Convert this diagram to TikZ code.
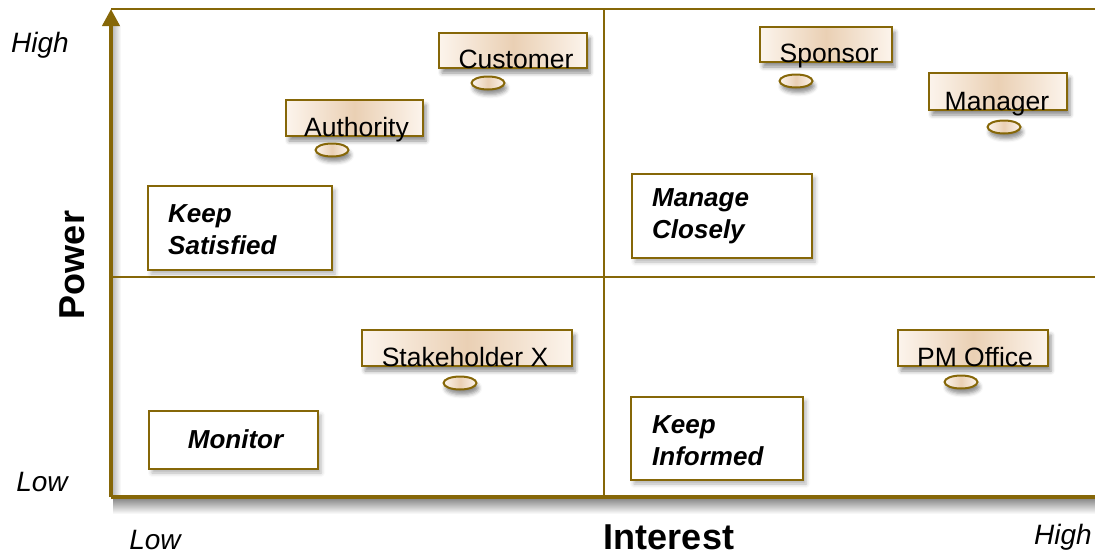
\documentclass[tikz,border=0pt]{standalone}
\usepackage{fontspec}
\setmainfont{Liberation Sans}
\usetikzlibrary{shadows.blur,arrows.meta,shapes.geometric}
\definecolor{axiscol}{RGB}{134,103,8}
\definecolor{tanlight}{RGB}{252,244,236}
\definecolor{tandark}{RGB}{234,208,180}
\begin{document}
\begin{tikzpicture}[x=1pt,y=-1pt,
  axisline/.style={draw=axiscol,line width=4pt},
  gridline/.style={draw=axiscol,line width=2.2pt},
  stk/.style={draw=axiscol,line width=2.2pt,left color=tanlight,right color=tanlight,middle color=tandark,
    inner sep=0pt,blur shadow={shadow xshift=3pt,shadow yshift=-5pt,shadow blur radius=4pt,shadow opacity=45}},
  stktxt/.style={font=\fontsize{26.5}{30}\selectfont,inner sep=0pt,anchor=base,text=black},
  oval/.style={ellipse,draw=axiscol,line width=2pt,minimum width=33pt,minimum height=13pt,inner sep=0pt,
    left color=tanlight,right color=tanlight,middle color=tandark,
    blur shadow={shadow xshift=2pt,shadow yshift=-5pt,shadow blur radius=4pt,shadow opacity=45}},
  strat/.style={draw=axiscol,line width=2pt,fill=white,inner sep=0pt,
    blur shadow={shadow xshift=3pt,shadow yshift=-4pt,shadow blur radius=4pt,shadow opacity=30}},
  strattxt/.style={font=\fontsize{26}{32}\selectfont\bfseries\itshape,inner sep=0pt,align=left,anchor=west},
  ticktxt/.style={font=\fontsize{28}{32}\selectfont\itshape,inner sep=0pt},
  axtitle/.style={font=\fontsize{36}{40}\selectfont\bfseries,inner sep=0pt}]
\useasboundingbox (0,0) rectangle (1095,557);
% coordinates
\coordinate (O) at (111,497);
\coordinate (Ytop) at (111,9);
\coordinate (Xend) at (1095,497);
\coordinate (TR) at (1095,9);
\coordinate (Tm) at (604,9);
\coordinate (Bm) at (604,497);
\coordinate (Lm) at (111,277);
\coordinate (Rm) at (1095,277);
% axis shadows
\shade[top color=black!45,bottom color=white] (113,499) rectangle (1095,514);
\shade[left color=black!25,right color=white] (113,26) rectangle (121,497);
% grid
\draw[gridline] (Ytop) -- (TR);
\draw[gridline] (Tm) -- (Bm);
\draw[gridline] (Lm) -- (Rm);
% axes
\draw[axisline] (O) -- (Xend);
\draw[axisline,-{Triangle[width=17pt,length=17pt]}] (O) -- (Ytop);
% strategy boxes
\node[strat,minimum width=184pt,minimum height=84pt] (ks) at (240,228) {};
\node[strattxt] (kst) at ([xshift=21pt,yshift=-2pt]ks.west) {Keep\\Satisfied};
\node[strat,minimum width=180pt,minimum height=84pt] (mc) at (722,216) {};
\node[strattxt] (mct) at ([xshift=21pt]mc.west) {Manage\\Closely};
\node[strat,minimum width=169pt,minimum height=58pt] (mo) at (233.5,440) {};
\node[font=\fontsize{26}{30}\selectfont\bfseries\itshape,inner sep=0pt] (mot) at ([xshift=2pt,yshift=1pt]mo.center) {Monitor};
\node[strat,minimum width=172pt,minimum height=83pt] (ki) at (717,438.5) {};
\node[strattxt] (kit) at ([xshift=22pt,yshift=-2pt]ki.west) {Keep\\Informed};
% stakeholders
\node[stk,minimum width=148pt,minimum height=35pt] (cust) at (513,50.5) {};
\node[stktxt] (custt) at ([xshift=3pt,yshift=1pt]cust.south) {Customer};
\node[oval] (custo) at (488,83) {};
\node[stk,minimum width=137pt,minimum height=36pt] (auth) at (354.5,118) {};
\node[stktxt] (autht) at ([xshift=2pt,yshift=1pt]auth.south) {Authority};
\node[oval] (autho) at (332,150) {};
\node[stk,minimum width=132pt,minimum height=35pt] (spon) at (826,44.5) {};
\node[stktxt] (spont) at ([xshift=3pt,yshift=1pt]spon.south) {Sponsor};
\node[oval] (spono) at (796,81) {};
\node[stk,minimum width=138pt,minimum height=37pt] (man) at (998,91.5) {};
\node[stktxt] (mant) at ([xshift=-1pt,yshift=1pt]man.south) {Manager};
\node[oval] (mano) at (1004,127) {};
\node[stk,minimum width=210pt,minimum height=36pt] (stx) at (467,348) {};
\node[stktxt] (stxt) at ([xshift=-2pt,yshift=1pt]stx.south) {Stakeholder X};
\node[oval] (stxo) at (460,383) {};
\node[stk,minimum width=150pt,minimum height=36pt] (pmo) at (973,348) {};
\node[stktxt] (pmot) at ([xshift=2pt,yshift=1pt]pmo.south) {PM Office};
\node[oval] (pmoo) at (961,382) {};
% axis labels
\node[ticktxt] (hl) at (40,45) {High};
\node[ticktxt] (ll) at (42,482) {Low};
\node[ticktxt] (lb) at (155,540) {Low};
\node[ticktxt] (hb) at (1063,537) {High};
\node[axtitle] (xt) at (669,537) {Interest};
\node[axtitle,rotate=90] (yt) at (72,265) {Power};
\end{tikzpicture}
\end{document}
